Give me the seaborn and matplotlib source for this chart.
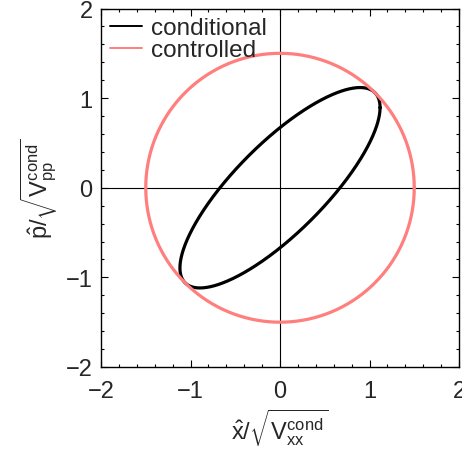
import numpy as np
import pandas as pd
import matplotlib
matplotlib.use("Agg")
import matplotlib.pyplot as plt
import seaborn as sns
from matplotlib.ticker import MultipleLocator

# Normalised conditional covariance (unit diagonal) and contour level
cond_cov = [[1.0, 0.8],
            [0.8, 1.0]]
cond_level_sq = 1.25
# Radius of the controlled-state circle
controlled_radius = 1.5
series_names = ["conditional", "controlled"]
series_colors = ["black", "#ff7f7f"]
tick_values = [-2, -1, 0, 1, 2]
tick_labels = ["\u22122", "\u22121", "0", "1", "2"]

sns.set_theme(style="white")
plt.rcParams["font.family"] = ["Liberation Sans", "DejaVu Sans"]
plt.rcParams["mathtext.fontset"] = "custom"
plt.rcParams["mathtext.rm"] = "Liberation Sans"
plt.rcParams["mathtext.it"] = "Liberation Sans"
plt.rcParams["mathtext.bf"] = "Liberation Sans:bold"

theta = np.linspace(0, 2 * np.pi, 721)
unit = np.vstack([np.cos(theta), np.sin(theta)])

chol = np.linalg.cholesky(np.array(cond_cov))
ell = np.sqrt(cond_level_sq) * chol @ unit
circ = controlled_radius * unit

df = pd.concat([
    pd.DataFrame({"x": ell[0], "y": ell[1], "series": series_names[0]}),
    pd.DataFrame({"x": circ[0], "y": circ[1], "series": series_names[1]}),
], ignore_index=True)

fig = plt.figure(figsize=(4.62, 4.52), dpi=100)
ax = fig.add_axes([101 / 462, 1 - 368 / 452, 358 / 462, 358.5 / 452])

ax.axhline(0, color="black", lw=0.8, zorder=1)
ax.axvline(0, color="black", lw=0.8, zorder=1)

sns.lineplot(data=df, x="x", y="y", hue="series", hue_order=series_names,
             palette=series_colors, sort=False, estimator=None, units="series",
             linewidth=2.3, ax=ax, legend=True, zorder=3)

ax.set_xlim(-2, 2)
ax.set_ylim(-2, 2)
ax.set_xticks(tick_values)
ax.set_yticks(tick_values)
ax.set_xticklabels(tick_labels)
ax.set_yticklabels(tick_labels)
ax.xaxis.set_minor_locator(MultipleLocator(0.2))
ax.yaxis.set_minor_locator(MultipleLocator(0.2))
ax.tick_params(which="both", direction="in", top=True, right=True,
               bottom=True, left=True, color="black", width=0.8)
ax.tick_params(which="major", length=5, labelsize=17, pad=6)
ax.tick_params(which="minor", length=2.5)
ax.tick_params(axis="x", which="major", pad=9)
for s in ax.spines.values():
    s.set_color("black")
    s.set_linewidth(1.0)

ax.set_xlabel(r"$\hat{\mathrm{x}}/\sqrt{\mathrm{V}_{\mathrm{xx}}^{\mathrm{cond}}}$", fontsize=17, labelpad=4)
ax.set_ylabel(r"$\hat{\mathrm{p}}/\sqrt{\mathrm{V}_{\mathrm{pp}}^{\mathrm{cond}}}$", fontsize=17, labelpad=4)

leg = ax.legend(loc="upper left", frameon=False, fontsize=17.5, handlelength=1.35,
                handletextpad=0.35, labelspacing=0.0, borderaxespad=0.15,
                borderpad=0.2)
for line in leg.get_lines():
    line.set_linewidth(1.4)

fig.savefig("out.png", dpi=100)
